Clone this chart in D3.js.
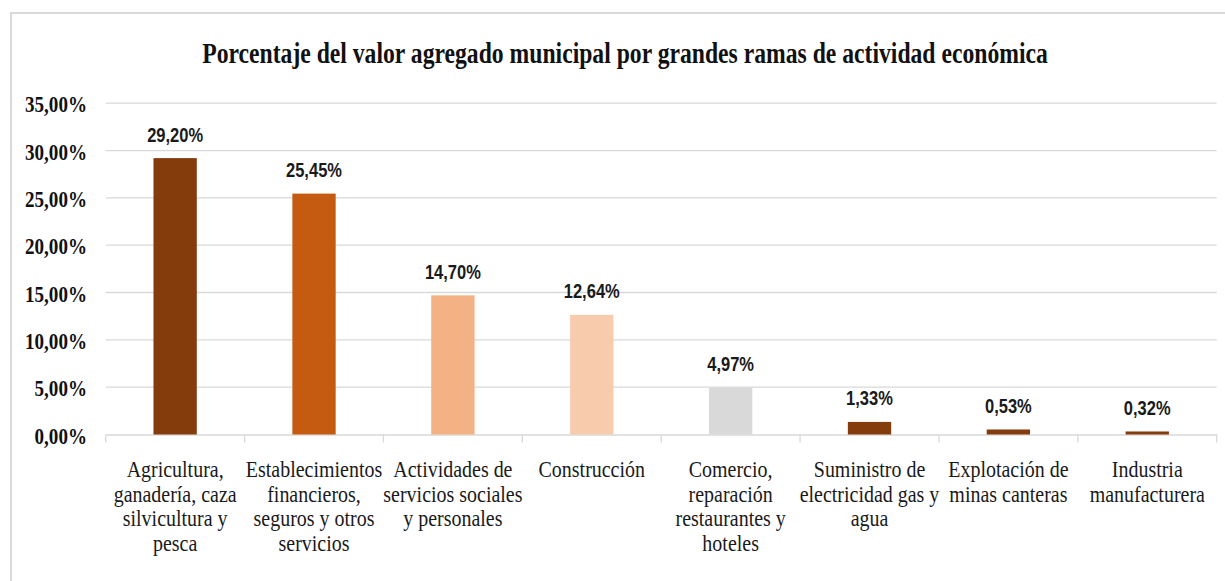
<!DOCTYPE html>
<html>
<head>
<meta charset="utf-8">
<script src="https://cdn.jsdelivr.net/npm/d3@7/dist/d3.min.js"></script>
<style>
  html, body { margin: 0; padding: 0; background: #ffffff; }
  svg { display: block; }
</style>
</head>
<body>
<script>
const titleText = "Porcentaje del valor agregado municipal por grandes ramas de actividad económica";
const categories = [
  ["Agricultura,", "ganadería, caza", "silvicultura y", "pesca"],
  ["Establecimientos", "financieros,", "seguros y otros", "servicios"],
  ["Actividades de", "servicios sociales", "y personales"],
  ["Construcción"],
  ["Comercio,", "reparación", "restaurantes y", "hoteles"],
  ["Suministro de", "electricidad gas y", "agua"],
  ["Explotación de", "minas canteras"],
  ["Industria", "manufacturera"]
];
const values = [29.20, 25.45, 14.70, 12.64, 4.97, 1.33, 0.53, 0.32];
const barColors = ["#843C0C", "#C55A11", "#F4B183", "#F8CBAD", "#D9D9D9", "#843C0C", "#843C0C", "#843C0C"];
const yTicks = [0, 5, 10, 15, 20, 25, 30, 35];

const W = 1225, H = 581;
const svg = d3.select("body").append("svg").attr("width", W).attr("height", H);

// chart border
svg.append("path")
  .attr("d", "M11,581 L11,13 L1225,13")
  .attr("fill", "none").attr("stroke", "#d9d9d9").attr("stroke-width", 2);

const x0 = 105.7, x1 = 1216.7, yBottom = 434.5, yTop = 103.2;
const x = d3.scaleBand().domain(d3.range(categories.length)).range([x0, x1]).paddingInner(0).paddingOuter(0);
const y = d3.scaleLinear().domain([0, 35]).range([yBottom, yTop]);

function fmt(v) { return v.toFixed(2).replace(".", ",") + "%"; }

function squeeze(sel, factor) {
  sel.each(function() {
    const len = this.getComputedTextLength();
    d3.select(this).attr("textLength", len * factor).attr("lengthAdjust", "spacingAndGlyphs");
  });
}
function measure(text, font, size, weight) {
  const t = svg.append("text").attr("font-family", font).attr("font-size", size).attr("font-weight", weight).text(text);
  const w = t.node().getComputedTextLength();
  t.remove();
  return w;
}

// gridlines
svg.append("g").selectAll("line").data(yTicks.filter(d => d > 0)).join("line")
  .attr("x1", x0).attr("x2", x1)
  .attr("y1", d => y(d)).attr("y2", d => y(d))
  .attr("stroke", "#d9d9d9").attr("stroke-width", 1.3);

// x axis
const xAxis = d3.axisBottom(x).tickSize(0).tickFormat("");
const gx = svg.append("g").attr("transform", `translate(0,${yBottom})`).call(xAxis);
gx.select(".domain").attr("stroke", "#d9d9d9").attr("stroke-width", 1.3);
gx.selectAll(".tick").remove();
// boundary ticks
const bounds = d3.range(categories.length + 1).map(i => i < categories.length ? x(i) : x1);
svg.append("g").selectAll("line").data(bounds).join("line")
  .attr("x1", d => d).attr("x2", d => d)
  .attr("y1", yBottom).attr("y2", yBottom + 8)
  .attr("stroke", "#d9d9d9").attr("stroke-width", 1.3);

// bars
const barW = x.bandwidth() * 0.312;
svg.append("g").selectAll("rect").data(values).join("rect")
  .attr("x", (d, i) => x(i) + x.bandwidth() / 2 - barW / 2)
  .attr("width", barW)
  .attr("y", d => y(d))
  .attr("height", d => yBottom - y(d))
  .attr("fill", (d, i) => barColors[i]);

// y axis labels
const serif = "'Liberation Serif', 'Times New Roman', serif";
const yf = 62 / measure("35,00%", serif, 23, "bold");
const yl = svg.append("g").selectAll("text").data(yTicks).join("text")
  .attr("x", 87).attr("y", d => y(d) + 9)
  .attr("text-anchor", "end")
  .attr("font-family", serif).attr("font-size", 23).attr("font-weight", "bold")
  .attr("fill", "#111")
  .text(d => d.toFixed(2).replace(".", ",") + "%");
squeeze(yl, yf);

// data labels
const sans = "'Liberation Sans', Arial, sans-serif";
const df = 56 / measure("29,20%", sans, 20, "bold");
const dl = svg.append("g").selectAll("text").data(values).join("text")
  .attr("x", (d, i) => x(i) + x.bandwidth() / 2)
  .attr("y", d => y(d) - 16.5)
  .attr("text-anchor", "middle")
  .attr("font-family", sans).attr("font-size", 20).attr("font-weight", "bold")
  .attr("fill", "#1a1a1a")
  .text(d => fmt(d));
squeeze(dl, df);

// category labels
const cf = 97 / measure("Agricultura,", serif, 23, "normal");
const cg = svg.append("g").selectAll("g").data(categories).join("g")
  .attr("transform", (d, i) => `translate(${x(i) + x.bandwidth() / 2},0)`);
const cl = cg.selectAll("text").data(d => d).join("text")
  .attr("x", 0).attr("y", (d, j) => 477 + j * 24.6)
  .attr("text-anchor", "middle")
  .attr("font-family", serif).attr("font-size", 23)
  .attr("fill", "#1a1a1a")
  .text(d => d);
squeeze(cl, cf);

// title (horizontally condensed with a scale transform)
const tf = 846 / measure(titleText, serif, 29, "bold");
svg.append("g")
  .attr("transform", `translate(625,63) scale(${tf},1)`)
  .append("text")
  .attr("x", 0).attr("y", 0)
  .attr("text-anchor", "middle")
  .attr("font-family", serif).attr("font-size", 29).attr("font-weight", "bold")
  .attr("fill", "#111")
  .text(titleText);
</script>
</body>
</html>
